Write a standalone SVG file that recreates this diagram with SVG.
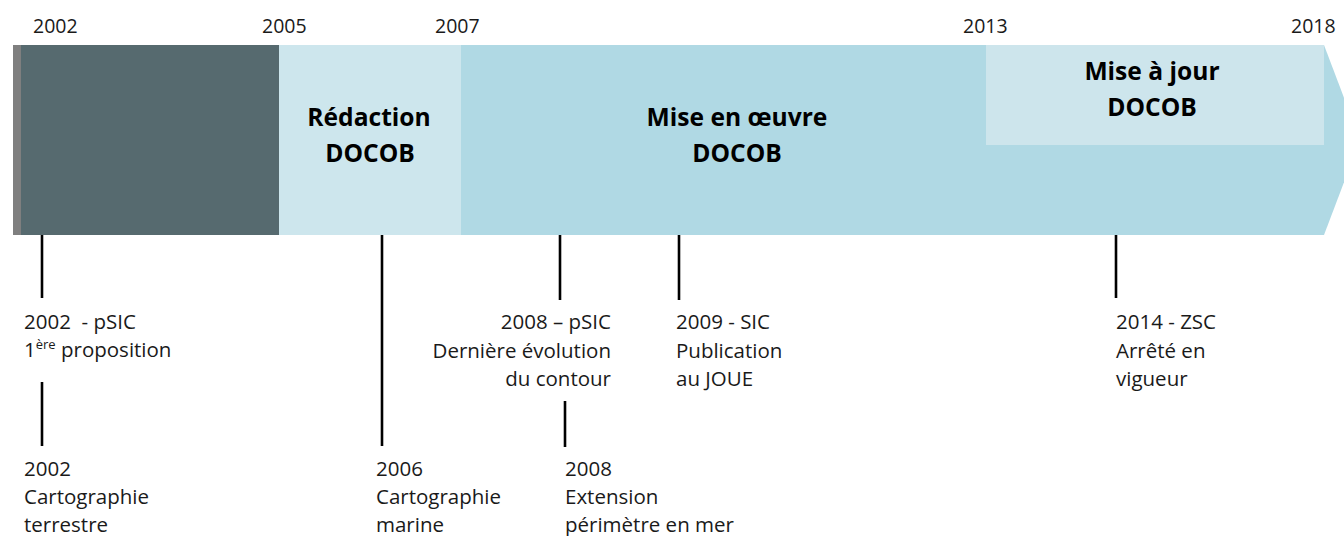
<svg xmlns="http://www.w3.org/2000/svg" width="1344" height="536" viewBox="0 0 1344 536">
  <style>
    .yr { font-family: "Open Sans", "Liberation Sans", sans-serif; font-size: 19.5px; fill: #1a1a1a; }
    .title { font-family: "Open Sans", "Liberation Sans", sans-serif; font-size: 24.6px; font-weight: bold; fill: #000; text-anchor: middle; }
    .lbl { font-family: "Open Sans", "Liberation Sans", sans-serif; font-size: 20.5px; fill: #1a1a1a; white-space: pre; }
    .end { text-anchor: end; }
    .tick { stroke: #000; stroke-width: 2.6; fill: none; }
  </style>
  <rect width="1344" height="536" fill="#ffffff"/>

  <g id="phase-pre">
    <rect x="13" y="45" width="8" height="190" fill="#7f7f7f"/>
    <rect x="21" y="45" width="258" height="190" fill="#566a6f"/>
  </g>
  <g id="phase-redaction">
    <rect x="279" y="45" width="182" height="190" fill="#cde6ed"/>
    <text class="title" x="369" y="126">Rédaction</text>
    <text class="title" x="370" y="162">DOCOB</text>
  </g>
  <g id="phase-mise-en-oeuvre">
    <polygon points="461,45 1324,45 1360,140 1324,235 461,235" fill="#b0d9e4"/>
    <text class="title" x="737" y="126">Mise en œuvre</text>
    <text class="title" x="737" y="162">DOCOB</text>
  </g>
  <g id="phase-mise-a-jour">
    <rect x="986" y="45" width="338" height="100" fill="#cde5ec"/>
    <text class="title" x="1152" y="80">Mise à jour</text>
    <text class="title" x="1152" y="116">DOCOB</text>
  </g>

  <g id="years">
    <text class="yr" x="33" y="33">2002</text>
    <text class="yr" x="262" y="32.5">2005</text>
    <text class="yr" x="435" y="32.5">2007</text>
    <text class="yr" x="963" y="32.5">2013</text>
    <text class="yr" x="1291" y="33">2018</text>
  </g>

  <g id="connectors">
    <line class="tick" x1="42" y1="235" x2="42" y2="298"/>
    <line class="tick" x1="42" y1="382" x2="42" y2="446"/>
    <line class="tick" x1="382" y1="235" x2="382" y2="446"/>
    <line class="tick" x1="560" y1="235" x2="560" y2="300"/>
    <line class="tick" x1="565" y1="401" x2="565" y2="447"/>
    <line class="tick" x1="679" y1="235" x2="679" y2="300"/>
    <line class="tick" x1="1116" y1="235" x2="1116" y2="298"/>
  </g>

  <g id="event-2002-psic">
    <text class="lbl" x="24" y="329">2002  - pSIC</text>
    <text class="lbl" x="24" y="357">1<tspan font-size="13" dy="-8">ère</tspan><tspan dy="8"> proposition</tspan></text>
  </g>
  <g id="event-2008-psic">
    <text class="lbl end" x="611" y="329">2008 – pSIC</text>
    <text class="lbl end" x="611" y="358">Dernière évolution</text>
    <text class="lbl end" x="611" y="386">du contour</text>
  </g>
  <g id="event-2009-sic">
    <text class="lbl" x="676" y="329">2009 - SIC</text>
    <text class="lbl" x="676" y="358">Publication</text>
    <text class="lbl" x="676" y="386">au JOUE</text>
  </g>
  <g id="event-2014-zsc">
    <text class="lbl" x="1116" y="329">2014 - ZSC</text>
    <text class="lbl" x="1116" y="358">Arrêté en</text>
    <text class="lbl" x="1116" y="386">vigueur</text>
  </g>
  <g id="event-2002-carto">
    <text class="lbl" x="24" y="476">2002</text>
    <text class="lbl" x="24" y="504">Cartographie</text>
    <text class="lbl" x="24" y="532">terrestre</text>
  </g>
  <g id="event-2006-carto">
    <text class="lbl" x="376" y="476">2006</text>
    <text class="lbl" x="376" y="504">Cartographie</text>
    <text class="lbl" x="376" y="532">marine</text>
  </g>
  <g id="event-2008-extension">
    <text class="lbl" x="565" y="476">2008</text>
    <text class="lbl" x="565" y="504">Extension</text>
    <text class="lbl" x="565" y="532">périmètre en mer</text>
  </g>
</svg>
